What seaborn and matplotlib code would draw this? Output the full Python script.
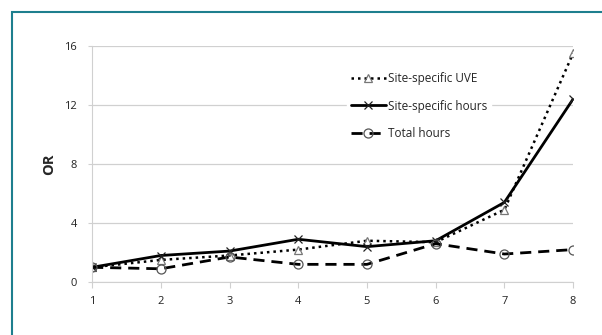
import pandas as pd
import seaborn as sns
import matplotlib.pyplot as plt
from matplotlib.patches import Rectangle

# values
levels = [1, 2, 3, 4, 5, 6, 7, 8]
uve = [1.0, 1.5, 1.8, 2.2, 2.8, 2.7, 4.9, 15.5]
site_hours = [1.0, 1.8, 2.1, 2.9, 2.4, 2.8, 5.4, 12.4]
total_hours = [1.0, 0.9, 1.7, 1.2, 1.2, 2.6, 1.9, 2.2]
series_names = ['Site-specific UVE', 'Site-specific hours', 'Total hours']
y_ticks = [0, 4, 8, 12, 16]

df = pd.DataFrame({
    'level': levels * 3,
    'OR': uve + site_hours + total_hours,
    'series': [series_names[0]] * 8 + [series_names[1]] * 8 + [series_names[2]] * 8,
})

sns.set_style('white')
plt.rcParams['font.family'] = ['Open Sans', 'DejaVu Sans']

fig = plt.figure(figsize=(6.02, 3.35), dpi=100)
ax = fig.add_axes([0.153, 0.158, 0.799, 0.705])

styles = {
    series_names[0]: dict(ls=(0, (1, 1.6)), marker='^', lw=1.8, ms=6, mec='#777777'),
    series_names[1]: dict(ls='-', marker='x', lw=2.0, ms=6, mec='#222222'),
    series_names[2]: dict(ls=(0, (4, 2.5)), marker='o', lw=2.0, ms=6.5, mec='#555555'),
}
for name in series_names:
    st = styles[name]
    sns.lineplot(data=df[df['series'] == name], x='level', y='OR', ax=ax,
                 color='black', linestyle=st['ls'], linewidth=st['lw'],
                 marker=st['marker'], markersize=st['ms'],
                 markerfacecolor='none', markeredgecolor=st['mec'],
                 markeredgewidth=0.9, label=name)

ax.set_xlim(1, 8)
ax.set_ylim(0, 16)
ax.set_xticks(levels)
ax.set_yticks(y_ticks)
ax.yaxis.grid(True, color='#d0d0d0', lw=0.9)
ax.set_axisbelow(True)
for s in ['top', 'right']:
    ax.spines[s].set_visible(False)
for s in ['left', 'bottom']:
    ax.spines[s].set_color('#d0d0d0')
ax.tick_params(axis='x', length=4, color='#d0d0d0', labelsize=8, pad=6,
               bottom=True, labelcolor='#222222')
ax.tick_params(axis='y', length=3, color='#d0d0d0', labelsize=8, pad=8,
               left=True, labelcolor='#222222')
ax.set_xlabel('')
ax.set_ylabel('OR', fontsize=10.5, fontweight='bold', labelpad=6)

leg = ax.legend(loc='upper left', bbox_to_anchor=(0.53, 0.905), frameon=True,
                fontsize=8.5, handlelength=3.0, handletextpad=0.15,
                labelspacing=1.25, borderpad=0.3, borderaxespad=0)
leg.get_frame().set_edgecolor('white')
leg.get_frame().set_facecolor('white')
leg.get_frame().set_alpha(1)

# teal outer frame that runs off the right and bottom edges
fig.patches.append(Rectangle((11.5 / 602, -0.1), 1.0, 1 - 12.5 / 335 + 0.1,
                             transform=fig.transFigure, fill=False,
                             edgecolor='#1e7f8e', lw=1.5))

fig.savefig('out.png', dpi=100)
